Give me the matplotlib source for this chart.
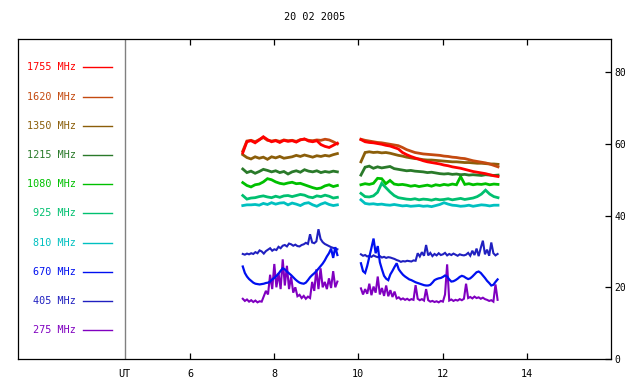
import numpy as np
import matplotlib
matplotlib.use("Agg")
import matplotlib.pyplot as plt

plt.rcParams['font.family'] = ['DejaVu Sans Mono']
plt.rcParams['font.size'] = 7.3

title = "20 02 2005"
freqs = ["1755", "1620", "1350", "1215", "1080", "925", "810", "670", "405", "275"]
colors = ["#FF0000", "#C44A10", "#8B5E0A", "#2A7A2A", "#00C000",
          "#00C070", "#00C0C0", "#0010F0", "#2020C0", "#8000C0"]
xticks = [6, 8, 10, 12, 14]
yticks = [0, 20, 40, 60, 80]
ut_pos = 4.46

# sampling times (UT hours) of the two observation segments
t_hi_1 = np.linspace(7.25, 9.50, 24)
t_hi_2 = np.linspace(10.06, 13.32, 34)
t_lo_1 = np.linspace(7.25, 9.50, 46)
t_lo_2 = np.linspace(10.06, 13.31, 66)

# ---- high frequencies, segment 1 ----
f1755_a = [57.5, 60.6, 60.9, 60.3, 61.1, 62.0, 61.2, 60.6, 60.9, 60.4, 61.0, 60.7,
           60.9, 60.5, 61.1, 61.4, 60.8, 60.6, 60.9, 59.8, 59.3, 59.0, 59.6, 60.2]
f1620_a = [58.0, 60.8, 61.0, 60.6, 61.2, 61.8, 61.0, 60.8, 61.0, 60.7, 61.1, 60.9,
           61.0, 60.7, 61.2, 61.3, 61.0, 60.9, 61.1, 61.0, 61.3, 61.1, 60.6, 60.0]
f1350_a = [57.0, 56.2, 55.8, 56.4, 56.0, 56.3, 55.7, 56.4, 56.1, 56.5, 56.0, 56.2,
           56.4, 56.8, 56.5, 56.9, 56.6, 56.3, 56.7, 56.5, 56.8, 56.6, 57.0, 57.3]
f1215_a = [53.0, 52.0, 52.4, 51.8, 52.3, 52.9, 52.6, 52.2, 52.5, 52.0, 52.3, 51.6,
           52.2, 52.5, 52.1, 52.8, 52.4, 52.2, 52.5, 52.0, 52.3, 52.1, 52.4, 52.2]
f1080_a = [49.2, 48.4, 48.0, 48.6, 48.8, 49.4, 50.3, 50.0, 49.4, 49.0, 48.8, 49.1,
           49.3, 48.9, 49.0, 48.6, 48.2, 47.8, 47.5, 47.7, 48.3, 48.6, 48.1, 48.4]
f925_a = [45.6, 44.6, 44.9, 45.0, 45.3, 45.5, 45.2, 45.0, 45.4, 45.1, 45.5, 45.6,
          45.3, 45.6, 45.9, 45.7, 45.2, 45.0, 45.5, 45.3, 45.7, 45.4, 44.9, 45.1]
f810_a = [42.8, 43.0, 43.0, 43.1, 42.9, 43.4, 43.1, 43.6, 43.2, 43.5, 43.6, 43.0,
          43.5, 43.2, 42.8, 43.4, 43.6, 43.0, 42.6, 43.2, 43.6, 43.1, 42.8, 43.0]

# ---- high frequencies, segment 2 ----
f1755_b = [61.2, 60.6, 60.4, 60.3, 60.1, 59.9, 59.6, 59.4, 59.0, 58.6, 57.6, 57.0,
           56.5, 56.1, 55.7, 55.3, 55.0, 54.8, 54.6, 54.4, 54.1, 53.9, 53.6, 53.4,
           53.2, 52.9, 52.6, 52.3, 52.1, 51.9, 51.7, 51.4, 51.1, 50.9]
f1620_b = [61.3, 61.0, 60.8, 60.6, 60.4, 60.3, 60.1, 59.9, 59.7, 59.5, 59.0, 58.4,
           58.0, 57.6, 57.4, 57.2, 57.1, 57.0, 56.9, 56.8, 56.6, 56.5, 56.3, 56.2,
           56.0, 55.9, 55.6, 55.3, 55.1, 54.9, 54.7, 54.4, 54.0, 53.6]
f1350_b = [55.0, 57.6, 57.8, 57.6, 57.7, 57.5, 57.6, 57.4, 57.1, 56.8, 56.6, 56.3,
           56.1, 55.9, 55.8, 55.6, 55.5, 55.5, 55.4, 55.3, 55.2, 55.1, 55.0, 55.0,
           54.9, 54.8, 54.8, 54.7, 54.6, 54.6, 54.5, 54.4, 54.4, 54.3]
f1215_b = [51.3, 53.5, 53.8, 53.2, 53.6, 53.3, 53.5, 53.7, 53.1, 52.9, 52.7, 52.5,
           52.6, 52.4, 52.3, 52.2, 52.0, 52.1, 51.9, 51.7, 51.6, 51.7, 51.5, 51.6,
           51.4, 51.5, 51.3, 51.4, 51.3, 51.2, 51.4, 51.3, 51.2, 51.3]
f1080_b = [48.6, 48.9, 48.7, 49.0, 50.4, 50.3, 48.9, 49.8, 48.8, 48.6, 48.7, 48.5,
           48.2, 48.4, 48.1, 48.3, 48.5, 48.2, 48.6, 48.4, 48.7, 48.5, 48.8, 48.6,
           50.9, 48.7, 48.9, 48.6, 48.8, 48.7, 48.9, 48.6, 48.8, 48.7]
f925_b = [46.2, 45.3, 45.2, 45.5, 46.5, 49.0, 47.8, 46.6, 45.6, 45.0, 44.8, 44.6,
          44.5, 44.7, 44.4, 44.6, 44.5, 44.3, 44.6, 44.4, 44.5, 44.7, 44.4, 44.6,
          44.8, 44.5, 44.7, 44.9, 45.3, 46.0, 47.1, 46.0, 45.3, 45.0]
f810_b = [44.4, 43.4, 43.2, 43.3, 43.1, 43.2, 43.0, 42.9, 43.1, 42.9, 42.7, 42.8,
          42.6, 42.7, 42.8, 42.6, 42.7, 42.5, 42.8, 43.1, 43.6, 43.2, 42.9, 42.8,
          42.6, 42.7, 42.9, 42.6, 42.8, 43.0, 42.9, 42.7, 42.9, 42.9]

# ---- low frequencies, segment 1 ----
f670_a = [25.8, 24.0, 23.0, 22.3, 21.8, 21.3, 21.0, 20.9, 20.8, 20.9, 21.0, 21.2,
          21.3, 21.6, 22.2, 22.6, 23.2, 23.8, 24.6, 25.3, 25.0, 24.4, 23.9, 23.4,
          22.8, 22.2, 21.7, 21.3, 21.1, 21.0, 21.3, 22.0, 22.8, 23.4, 23.9, 24.5,
          25.2, 25.9, 26.6, 27.5, 28.6, 29.5, 30.8, 28.2, 31.2, 29.0]
f405_a = [29.3, 29.1, 29.4, 29.2, 29.5, 29.3, 29.8, 29.5, 30.3, 30.0, 29.4, 30.1,
          30.5, 30.9, 30.2, 30.6, 30.4, 31.3, 30.9, 31.6, 31.8, 31.4, 32.2, 32.0,
          31.6, 31.9, 31.5, 31.4, 31.8, 32.0, 32.4, 32.1, 34.8, 32.5, 32.3, 32.8,
          36.2, 33.5, 32.6, 32.1, 31.8, 31.5, 31.2, 31.0, 30.8, 30.6]
f275_a = [16.8, 16.2, 16.6, 16.0, 16.4, 15.9, 16.3, 15.8, 16.1, 16.0, 17.5, 19.0,
          18.0, 23.5, 19.5, 26.5, 20.0, 24.0, 19.5, 27.8, 20.5, 26.0, 19.5, 23.0,
          18.5, 20.0, 17.5, 17.9, 17.0, 17.6, 16.8, 17.4, 17.0, 21.5, 19.0, 25.0,
          19.5, 25.3, 20.0, 21.5, 19.5, 22.5, 19.8, 24.5, 20.0, 21.6]

# ---- low frequencies, segment 2 ----
f670_b = [26.7, 24.5, 24.0, 26.0, 28.5, 31.0, 33.6, 29.5, 31.5, 27.0,
          25.0, 23.2, 22.4, 22.0, 23.6, 24.6, 25.7, 26.7, 25.0, 24.2,
          23.5, 23.0, 22.6, 22.2, 22.0, 21.7, 21.4, 21.2, 21.0, 20.8,
          20.6, 20.5, 20.5, 20.7, 21.3, 22.0, 22.3, 22.5, 22.6, 22.9,
          23.3, 23.0, 22.2, 21.6, 21.7, 22.0, 22.4, 22.9, 23.2, 23.0,
          22.6, 22.3, 22.5, 23.0, 23.6, 24.2, 24.4, 24.0, 23.3, 22.6,
          21.8, 21.2, 20.5, 20.7, 21.5, 22.2]
f405_b = [29.2, 28.8, 29.0, 28.6, 28.8, 28.5, 28.9, 28.6, 28.4, 28.7,
          28.3, 28.5, 28.2, 28.4, 28.3, 28.1, 27.9, 27.6, 27.4, 27.1,
          27.3, 27.2, 27.4, 27.3, 27.2, 27.5, 27.4, 29.5, 28.6, 29.8,
          28.8, 31.8, 28.9, 29.6, 28.7, 29.3, 28.9, 29.5, 29.0, 29.2,
          29.6, 28.9, 29.3, 29.0, 29.4, 29.1, 28.8, 29.2, 29.0, 28.9,
          29.1, 29.6, 28.8, 30.2, 29.0, 30.8, 28.7, 31.0, 33.0, 29.2,
          30.5, 28.8, 32.5, 29.5, 28.9, 29.3]
f275_b = [19.7, 18.0, 19.5, 18.2, 21.0, 17.8, 20.2, 18.5, 23.0, 18.0,
          19.8, 17.6, 20.5, 17.5, 19.2, 17.3, 18.8, 16.9, 17.2, 16.6,
          16.9, 16.5, 16.8, 16.4, 16.7, 16.5, 20.6, 16.8, 16.4, 16.7,
          16.3, 19.5, 16.4, 16.0, 16.2, 15.9, 16.1, 15.8, 16.2, 16.0,
          18.0, 26.4, 16.3, 16.6, 16.2, 16.5, 16.3, 16.7, 16.4, 16.8,
          21.0, 17.0, 17.3, 16.9, 17.4, 17.0, 17.2, 16.8, 17.1, 16.7,
          16.5, 16.2, 16.4, 16.0, 20.8, 16.5]

series = {
    "1755": (t_hi_1, f1755_a, t_hi_2, f1755_b),
    "1620": (t_hi_1, f1620_a, t_hi_2, f1620_b),
    "1350": (t_hi_1, f1350_a, t_hi_2, f1350_b),
    "1215": (t_hi_1, f1215_a, t_hi_2, f1215_b),
    "1080": (t_hi_1, f1080_a, t_hi_2, f1080_b),
    "925": (t_hi_1, f925_a, t_hi_2, f925_b),
    "810": (t_hi_1, f810_a, t_hi_2, f810_b),
    "670": (t_lo_1, f670_a, t_lo_2, f670_b),
    "405": (t_lo_1, f405_a, t_lo_2, f405_b),
    "275": (t_lo_1, f275_a, t_lo_2, f275_b),
}
line_w = {"670": 1.6, "405": 1.5, "275": 1.5}

W, H = 640, 384
L, R, B, T = 18.4, 610.7, 359.0, 38.5  # pixel frame
fig = plt.figure(figsize=(W / 100, H / 100), dpi=100)
ax = fig.add_axes([L / W, (H - B) / H, (R - L) / W, (B - T) / H])
ax.set_xlim(1.914, 16.0)
ax.set_ylim(0, 89.4)

# traces (low to high, red on top)
for name, col in reversed(list(zip(freqs, colors))):
    ta, ya, tb, yb = series[name]
    lw = line_w.get(name, 2.0)
    ax.plot(ta, ya, color=col, lw=lw, solid_joinstyle='miter')
    ax.plot(tb, yb, color=col, lw=lw, solid_joinstyle='miter')

# UT separator line
ax.axvline(ut_pos, color="#808080", lw=1.0)
ax.annotate("UT", xy=(ut_pos, 0), xycoords=('data', 'axes fraction'),
            xytext=(-1, -7), textcoords='offset points', ha='center', va='top')

# legend column
trans = ax.transAxes
for k, (name, col) in enumerate(zip(freqs, colors)):
    py = 67.3 + k * 29.22
    yf = (B - py) / (B - T)
    xt = (76 - L) / (R - L)
    ax.text(xt, yf, f"{name} MHz", color=col, ha='right', va='center',
            transform=trans)
    ax.plot([(83 - L) / (R - L), (112 - L) / (R - L)], [yf, yf], color=col,
            lw=1.0, transform=trans)

ax.set_xticks(xticks)
ax.set_xticklabels([str(v) for v in xticks])
ax.set_yticks(yticks)
ax.set_yticklabels([str(v) for v in yticks])
ax.yaxis.tick_right()
ax.tick_params(axis='x', direction='in', length=4, width=0.9, pad=7,
               top=True, bottom=True)
ax.tick_params(axis='y', direction='in', length=4, width=0.9, pad=2.5,
               left=False, right=True, labelsize=7)
for s in ax.spines.values():
    s.set_linewidth(0.9)

fig.text(314.5 / W, 1 - 16.7 / H, title, ha='center', va='center')

fig.savefig("out.png", dpi=100)
